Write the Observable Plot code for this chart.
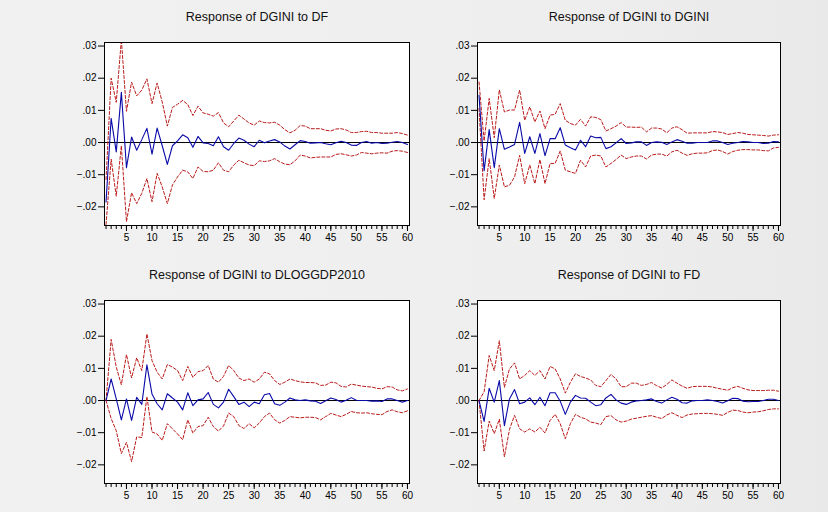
<!DOCTYPE html>
<html>
<head>
<meta charset="utf-8">
<script src="https://cdn.jsdelivr.net/npm/d3@7"></script>
<script src="https://cdn.jsdelivr.net/npm/@observablehq/plot@0.6"></script>
<style>
  html, body { margin: 0; padding: 0; background: #efefef; }
  #wrap { position: relative; width: 828px; height: 512px; overflow: hidden;
          background: linear-gradient(to right, #f1f1f1 0%, #eeeeee 70%, #e9e9e9 100%); }
  .panel { position: absolute; }
</style>
</head>
<body>
<div id="wrap"></div>
<script>
// ---------- data ----------
const periods = [1,2,3,4,5,6,7,8,9,10,11,12,13,14,15,16,17,18,19,20,
  21,22,23,24,25,26,27,28,29,30,31,32,33,34,35,36,37,38,39,40,
  41,42,43,44,45,46,47,48,49,50,51,52,53,54,55,56,57,58,59,60];
const xTickLabels = [5,10,15,20,25,30,35,40,45,50,55,60];
const yTicks = [-0.02,-0.01,0,0.01,0.02,0.03];
const titles = ["Response of DGINI to DF","Response of DGINI to DGINI",
                "Response of DGINI to DLOGGDP2010","Response of DGINI to FD"];

// Response of DGINI to DF
const dfResp = [-0.0185,0.0075,-0.0029,0.0156,-0.0078,0.0017,-0.0024,0.0009,0.0044,-0.0036,
  0.0045,-0.0010,-0.0068,-0.0010,0.0005,0.0024,0.0015,-0.0015,0.0019,-0.0001,
  -0.0003,-0.0010,0.0018,-0.0013,-0.0024,-0.0003,0.0014,0.0007,-0.0005,-0.0013,
  0.0007,-0.0001,0.0005,0.0009,0.0002,-0.0011,-0.0020,-0.0007,0.0006,0.0003,
  -0.0002,-0.0001,0.0000,-0.0004,-0.0007,-0.0001,0.0004,0.0000,-0.0008,-0.0009,
  0.0000,0.0003,-0.0002,0.0000,-0.0003,-0.0002,0.0001,0.0003,0.0000,-0.0006];
const dfUpper = [-0.0115,0.0200,0.0125,0.0320,0.0097,0.0188,0.0145,0.0163,0.0198,0.0121,
  0.0185,0.0126,0.0051,0.0109,0.0119,0.0131,0.0118,0.0084,0.0113,0.0092,
  0.0088,0.0082,0.0093,0.0061,0.0049,0.0067,0.0085,0.0073,0.0061,0.0054,
  0.0067,0.0062,0.0061,0.0063,0.0054,0.0040,0.0030,0.0038,0.0053,0.0051,
  0.0043,0.0043,0.0043,0.0038,0.0036,0.0042,0.0043,0.0039,0.0031,0.0031,
  0.0034,0.0035,0.0031,0.0031,0.0029,0.0029,0.0029,0.0031,0.0028,0.0023];
const dfLower = [-0.0255,-0.0052,-0.0167,-0.0010,-0.0246,-0.0156,-0.0190,-0.0158,-0.0112,-0.0184,
  -0.0096,-0.0138,-0.0190,-0.0132,-0.0107,-0.0086,-0.0091,-0.0112,-0.0076,-0.0090,
  -0.0091,-0.0086,-0.0063,-0.0086,-0.0091,-0.0070,-0.0055,-0.0063,-0.0070,-0.0072,
  -0.0057,-0.0059,-0.0057,-0.0050,-0.0060,-0.0067,-0.0069,-0.0057,-0.0039,-0.0042,
  -0.0048,-0.0046,-0.0045,-0.0045,-0.0045,-0.0037,-0.0035,-0.0038,-0.0042,-0.0039,
  -0.0031,-0.0033,-0.0035,-0.0033,-0.0032,-0.0033,-0.0027,-0.0025,-0.0027,-0.0031];

// Response of DGINI to DGINI
const dginiResp = [0.0147,-0.0088,0.0040,-0.0078,0.0043,-0.0021,-0.0014,-0.0006,0.0063,-0.0034,
  0.0018,-0.0034,0.0028,-0.0041,0.0012,0.0012,0.0046,-0.0008,-0.0016,-0.0023,
  0.0007,-0.0013,0.0020,0.0015,0.0016,-0.0019,-0.0013,-0.0001,0.0012,-0.0003,
  -0.0001,0.0002,0.0002,-0.0009,0.0000,0.0002,0.0001,-0.0006,0.0002,0.0009,
  0.0004,-0.0002,-0.0002,0.0000,0.0000,0.0000,0.0005,0.0005,0.0000,-0.0006,
  -0.0002,0.0000,0.0003,0.0002,0.0000,0.0000,-0.0003,-0.0002,0.0003,0.0002];
const dginiUpper = [0.0188,0.0005,0.0137,0.0015,0.0164,0.0095,0.0101,0.0101,0.0163,0.0069,
  0.0111,0.0064,0.0098,0.0043,0.0085,0.0088,0.0121,0.0069,0.0059,0.0054,
  0.0072,0.0051,0.0080,0.0078,0.0071,0.0036,0.0043,0.0051,0.0062,0.0048,
  0.0048,0.0047,0.0048,0.0033,0.0045,0.0045,0.0042,0.0030,0.0045,0.0049,
  0.0040,0.0029,0.0030,0.0030,0.0030,0.0030,0.0034,0.0033,0.0031,0.0025,
  0.0028,0.0031,0.0029,0.0025,0.0024,0.0023,0.0022,0.0020,0.0023,0.0024];
const dginiLower = [0.0106,-0.0178,-0.0050,-0.0174,-0.0070,-0.0138,-0.0133,-0.0107,-0.0040,-0.0128,
  -0.0070,-0.0128,-0.0053,-0.0128,-0.0065,-0.0065,-0.0026,-0.0086,-0.0091,-0.0096,
  -0.0055,-0.0076,-0.0042,-0.0039,-0.0042,-0.0076,-0.0065,-0.0053,-0.0039,-0.0050,
  -0.0045,-0.0042,-0.0042,-0.0051,-0.0039,-0.0036,-0.0036,-0.0042,-0.0029,-0.0024,
  -0.0033,-0.0040,-0.0035,-0.0033,-0.0033,-0.0032,-0.0025,-0.0023,-0.0028,-0.0036,
  -0.0028,-0.0024,-0.0022,-0.0022,-0.0023,-0.0023,-0.0025,-0.0026,-0.0017,-0.0015];

// Response of DGINI to DLOGGDP2010
const gdpResp = [0.0000,0.0067,0.0005,-0.0060,0.0005,-0.0062,0.0010,-0.0012,0.0111,0.0020,
  -0.0010,-0.0029,0.0021,0.0008,-0.0005,-0.0029,0.0024,-0.0016,0.0002,0.0005,
  0.0025,-0.0012,-0.0023,-0.0005,0.0035,0.0012,-0.0012,-0.0005,-0.0019,-0.0005,
  -0.0010,0.0018,0.0022,-0.0010,-0.0015,-0.0005,0.0008,0.0002,0.0000,0.0002,
  -0.0001,-0.0002,-0.0009,-0.0001,0.0008,0.0003,-0.0005,0.0001,0.0009,0.0001,
  0.0000,0.0000,-0.0002,-0.0001,-0.0003,0.0005,0.0005,0.0000,-0.0005,0.0000];
const gdpUpper = [0.0000,0.0190,0.0104,0.0049,0.0143,0.0070,0.0133,0.0093,0.0207,0.0124,
  0.0088,0.0067,0.0112,0.0104,0.0093,0.0062,0.0106,0.0072,0.0090,0.0093,
  0.0109,0.0067,0.0057,0.0075,0.0109,0.0093,0.0070,0.0062,0.0067,0.0057,
  0.0067,0.0088,0.0083,0.0062,0.0050,0.0057,0.0067,0.0062,0.0058,0.0056,
  0.0056,0.0055,0.0047,0.0048,0.0057,0.0055,0.0044,0.0042,0.0051,0.0048,
  0.0045,0.0043,0.0042,0.0038,0.0036,0.0043,0.0042,0.0033,0.0030,0.0036];
const gdpLower = [0.0000,-0.0056,-0.0094,-0.0165,-0.0130,-0.0190,-0.0113,-0.0115,0.0012,-0.0098,
  -0.0104,-0.0124,-0.0072,-0.0088,-0.0104,-0.0122,-0.0060,-0.0101,-0.0081,-0.0078,
  -0.0052,-0.0081,-0.0095,-0.0079,-0.0039,-0.0050,-0.0078,-0.0087,-0.0072,-0.0085,
  -0.0070,-0.0050,-0.0039,-0.0060,-0.0070,-0.0062,-0.0050,-0.0052,-0.0054,-0.0052,
  -0.0052,-0.0053,-0.0060,-0.0050,-0.0040,-0.0045,-0.0050,-0.0043,-0.0034,-0.0038,
  -0.0039,-0.0038,-0.0041,-0.0043,-0.0044,-0.0034,-0.0029,-0.0035,-0.0038,-0.0032];

// Response of DGINI to FD
const fdResp = [0.0000,-0.0065,0.0038,-0.0005,0.0062,-0.0078,0.0005,0.0034,-0.0010,-0.0005,
  0.0008,-0.0013,0.0010,-0.0016,0.0024,0.0024,-0.0002,-0.0043,-0.0005,0.0016,
  0.0008,0.0007,-0.0005,-0.0016,-0.0013,0.0008,0.0019,0.0002,-0.0008,-0.0012,
  -0.0005,-0.0001,0.0000,0.0002,0.0005,-0.0003,-0.0008,0.0002,0.0010,0.0004,
  -0.0007,-0.0008,-0.0001,0.0000,0.0000,0.0002,0.0000,-0.0003,-0.0008,-0.0001,
  0.0007,0.0006,-0.0002,-0.0004,-0.0003,-0.0003,0.0000,0.0004,0.0004,0.0000];
const fdUpper = [0.0000,0.0027,0.0140,0.0093,0.0186,0.0041,0.0098,0.0117,0.0067,0.0078,
  0.0093,0.0078,0.0093,0.0067,0.0106,0.0098,0.0067,0.0023,0.0057,0.0083,
  0.0075,0.0070,0.0064,0.0047,0.0043,0.0062,0.0081,0.0067,0.0043,0.0043,
  0.0054,0.0054,0.0047,0.0050,0.0056,0.0046,0.0039,0.0050,0.0064,0.0054,
  0.0045,0.0038,0.0043,0.0044,0.0044,0.0044,0.0042,0.0038,0.0035,0.0032,
  0.0040,0.0044,0.0038,0.0033,0.0031,0.0031,0.0031,0.0032,0.0032,0.0029];
const fdLower = [0.0000,-0.0157,-0.0064,-0.0103,-0.0058,-0.0175,-0.0090,-0.0046,-0.0088,-0.0098,
  -0.0088,-0.0098,-0.0083,-0.0101,-0.0062,-0.0043,-0.0072,-0.0119,-0.0072,-0.0043,
  -0.0052,-0.0057,-0.0067,-0.0070,-0.0075,-0.0050,-0.0047,-0.0060,-0.0067,-0.0064,
  -0.0058,-0.0055,-0.0052,-0.0049,-0.0047,-0.0052,-0.0056,-0.0045,-0.0038,-0.0046,
  -0.0053,-0.0045,-0.0042,-0.0041,-0.0040,-0.0040,-0.0041,-0.0043,-0.0046,-0.0037,
  -0.0030,-0.0031,-0.0036,-0.0038,-0.0036,-0.0035,-0.0032,-0.0028,-0.0026,-0.0026];

// ---------- drawing ----------
const fmtY = d => d === 0 ? ".00" : d3.format(".2f")(d).replace("0.", ".");
const FONT = "Arial, 'Liberation Sans', Helvetica, sans-serif";

function panel(title, resp, upper, lower, pos) {
  const rows = periods.map((t, i) => ({t, r: resp[i], u: upper[i], l: lower[i]}));
  const svg = Plot.plot({
    width: 414, height: 256,
    marginLeft: pos.ml, marginRight: pos.mr, marginTop: pos.mt, marginBottom: pos.mb,
    style: {background: "transparent", fontFamily: FONT, fontSize: "10px", color: "#000", overflow: "visible"},
    x: {domain: [0.7, 60.4], label: null},
    y: {domain: [-0.0258, 0.0311], label: null},
    marks: [
      Plot.frame({fill: "white", stroke: null}),
      Plot.ruleY([0], {stroke: "#000", strokeWidth: 1}),
      Plot.line(rows, {x: "t", y: "u", stroke: "#bb1a1a", strokeWidth: 1, strokeDasharray: "3,2", clip: true}),
      Plot.line(rows, {x: "t", y: "l", stroke: "#bb1a1a", strokeWidth: 1, strokeDasharray: "3,2", clip: true}),
      Plot.line(rows, {x: "t", y: "r", stroke: "#0a0aa8", strokeWidth: 1.1, clip: true}),
      Plot.frame({stroke: "#000", strokeWidth: 1}),
      Plot.axisX(periods, {anchor: "bottom", tickSize: 4, tickFormat: () => "", label: null}),
      Plot.axisX(xTickLabels, {anchor: "bottom", tickSize: 6, tickPadding: 2, tickFormat: d => String(d), label: null, fontSize: 10}),
      Plot.axisY(yTicks, {anchor: "left", tickSize: 6, tickPadding: 2, tickFormat: fmtY, label: null, fontSize: 10}),
      Plot.text([title], {text: d => d, frameAnchor: "top", lineAnchor: "middle", dy: -25.5, fontSize: 12.5, fill: "#111"})
    ]
  });
  svg.classList.add("panel");
  svg.style.left = pos.left + "px";
  svg.style.top = pos.top + "px";
  document.getElementById("wrap").appendChild(svg);
}

panel(titles[0], dfResp, dfUpper, dfLower, {left: 0, top: 0, ml: 104, mr: 5, mt: 42, mb: 31});
panel(titles[1], dginiResp, dginiUpper, dginiLower, {left: 414, top: 0, ml: 63, mr: 48, mt: 42, mb: 31});
panel(titles[2], gdpResp, gdpUpper, gdpLower, {left: 0, top: 256, ml: 104, mr: 5, mt: 44, mb: 29});
panel(titles[3], fdResp, fdUpper, fdLower, {left: 414, top: 256, ml: 63, mr: 48, mt: 44, mb: 29});
</script>
</body>
</html>
